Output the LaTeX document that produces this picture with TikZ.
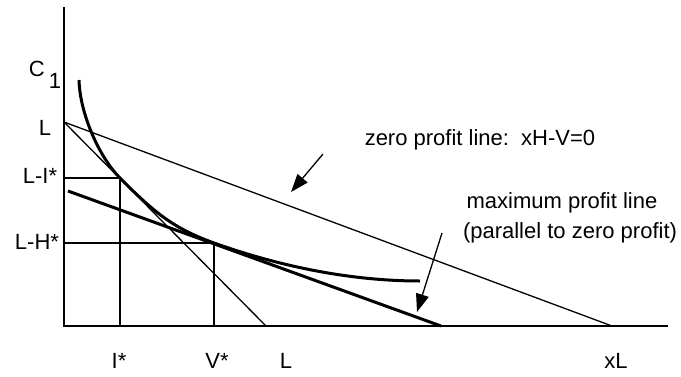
\documentclass[tikz,border=0pt]{standalone}
\usepackage{fontspec}
\setmainfont{Liberation Sans}
\usetikzlibrary{arrows.meta}

\tikzset{
  axisline/.style={line width=2pt},
  thinline/.style={line width=1.3pt},
  thickline/.style={line width=3pt},
  pointer/.style={line width=1.3pt,-{Triangle[length=18pt,width=13pt]}},
  lbl/.style={font=\fontsize{22}{26}\selectfont,inner sep=0pt}
}

\begin{document}
\begin{tikzpicture}[x=1pt,y=-1pt]

\useasboundingbox (0,0) rectangle (681,376);

% axes
\coordinate (O) at (64,326);
\coordinate (ytop) at (64,7);
\coordinate (xend) at (668,326);
\draw[axisline] (ytop) -- (O) -- (xend);

% points on the axes
\coordinate (L) at (64,122);
\coordinate (LI) at (64,178);
\coordinate (LH) at (64,243);
\coordinate (Ix) at (120,326);
\coordinate (Vx) at (214,326);
\coordinate (Lx) at (266,326);
\coordinate (xLx) at (612,326);
\coordinate (A) at (120,178);
\coordinate (B) at (214,243);

% budget lines
\draw[thinline] (L) -- (xLx);
\draw[thinline] (L) -- (Lx);

% helper lines
\draw[thinline] (LI) -- (A) -- (Ix);
\draw[thinline] (LH) -- (B) -- (Vx);

% maximum profit line
\coordinate (mp1) at (68,191);
\coordinate (mp2) at (441,326);
\draw[thickline] (mp1) -- (mp2);

% indifference curve
\coordinate (c0) at (79,80);
\coordinate (c3) at (420,281);
\draw[thickline] (c0) .. controls (80,115) and (100,158) .. (A)
  .. controls (155,213.4) and (174,228.5) .. (B)
  .. controls (290,270) and (360,281) .. (c3);

% axis labels
\node[lbl] (c1) at (45,74.5) {C\kern4pt\raisebox{-12pt}{1}};
\node[lbl] (lL) at (45,128) {L};
\node[lbl] (lLI) at (40,176) {L-I*};
\node[lbl] (lLH) at (37,242) {L-H*};
\node[lbl] (lI) at (119,361) {I*};
\node[lbl] (lV) at (217,361) {V*};
\node[lbl] (lLx) at (286,361) {L};
\node[lbl] (lxL) at (616,361) {xL};

% explanations
\node[lbl] (zp) at (480,140) {zero profit line:\ \ xH-V=0};
\node[lbl] (mp) at (562,203) {maximum profit line};
\node[lbl] (par) at (570,233) {(parallel to zero profit)};

\coordinate (zpt) at (323,154);
\coordinate (zph) at (291,192);
\draw[pointer] (zpt) -- (zph);
\coordinate (mpt) at (442,233);
\coordinate (mph) at (417,312);
\draw[pointer] (mpt) -- (mph);

\end{tikzpicture}
\end{document}
